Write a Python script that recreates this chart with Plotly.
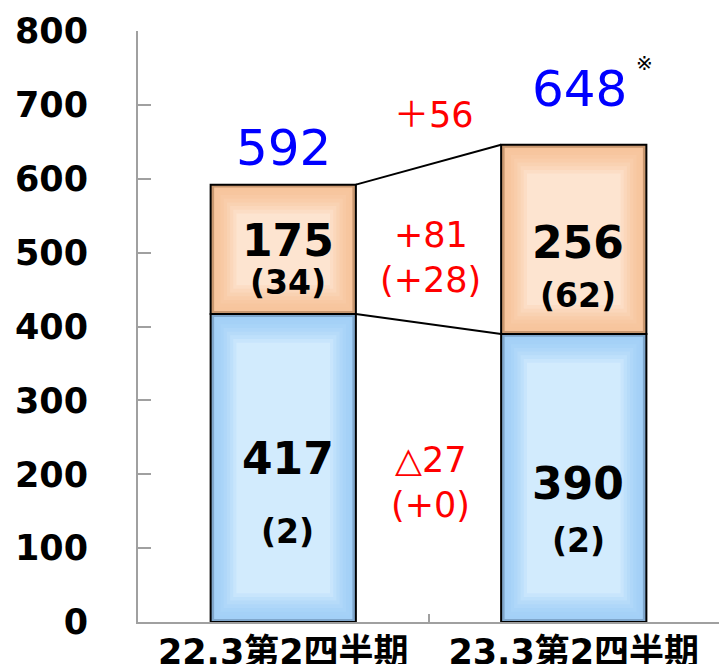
"""Stacked bar: 22.3 vs 23.3 second quarter, with change notes."""
import plotly.graph_objects as go

CATEGORIES = ["22.3第2四半期", "23.3第2四半期"]
LOWER = [417, 390]          # blue segment
UPPER = [175, 256]          # orange segment
LOWER_SUB = ["(2)", "(2)"]
UPPER_SUB = ["(34)", "(62)"]
TOTAL_LABELS = ["592", "648"]
CHANGE_TOTAL = "＋56"
CHANGE_UPPER = ["+81", "(+28)"]
CHANGE_LOWER = ["△27", "(+0)"]
Y_TICKS = [0, 100, 200, 300, 400, 500, 600, 700, 800]

FONT = "DejaVu Sans, Noto Sans CJK JP"
BAR_W = 0.5
xs = [0, 1]
tops = [a + b for a, b in zip(LOWER, UPPER)]

fig = go.Figure()


def mix(c1, c2, t):
    a = [int(c1[i:i + 2], 16) for i in (1, 3, 5)]
    b = [int(c2[i:i + 2], 16) for i in (1, 3, 5)]
    return "rgb(%d,%d,%d)" % tuple(round(p + (q - p) * t) for p, q in zip(a, b))


def add_bevel_bar(base, height, frame, edge, centre):
    # dark frame, then a stack of gradually lighter inner bars (bevel look)
    fig.add_trace(go.Bar(
        x=xs, y=height, base=base, width=BAR_W,
        marker=dict(color=frame, line=dict(color="black", width=2)),
        hoverinfo="skip", showlegend=False,
    ))
    steps = 8
    for k in range(steps):
        t = k / (steps - 1)
        inset_y = 4 + 5 * k
        inset_x = 0.012 + 0.011 * k
        fig.add_trace(go.Bar(
            x=xs, y=[h - 2 * inset_y for h in height],
            base=[b + inset_y for b in base],
            width=BAR_W - 2 * inset_x,
            marker=dict(color=mix(edge, centre, t ** 1.6), line=dict(width=0)),
            hoverinfo="skip", showlegend=False,
        ))


add_bevel_bar([0, 0], LOWER, "#7FA6CB", "#A3D0F7", "#D2EBFD")
add_bevel_bar(LOWER, UPPER, "#C8976F", "#F7C59D", "#FDE4D0")

# connector lines between the bars
for ya in (tops, LOWER):
    fig.add_trace(go.Scatter(
        x=[xs[0] + BAR_W / 2, xs[1] - BAR_W / 2], y=ya, mode="lines",
        line=dict(color="black", width=2), hoverinfo="skip", showlegend=False,
    ))

big = dict(family=FONT, size=44, color="black", weight="bold")
sub = dict(family=FONT, size=33, color="black", weight="bold")
red = dict(family=FONT, size=35, color="#FF0000")
blue = dict(family=FONT, size=50, color="#0000FF")

ann = []
upper_y = [(516, 459), (514, 442)]
lower_y = [(221, 122), (188, 111)]
dx = 0.015
for i in range(2):
    ann.append(dict(x=xs[i] + dx, y=upper_y[i][0], text=str(UPPER[i]), font=big))
    ann.append(dict(x=xs[i] + dx, y=upper_y[i][1], text=UPPER_SUB[i], font=sub))
    ann.append(dict(x=xs[i] + dx, y=lower_y[i][0], text=str(LOWER[i]), font=big))
    ann.append(dict(x=xs[i] + dx, y=lower_y[i][1], text=LOWER_SUB[i], font=sub))
ann.append(dict(x=0, y=641, text=TOTAL_LABELS[0], font=blue))
ann.append(dict(x=1.02, y=721, text=TOTAL_LABELS[1], font=blue))
ann.append(dict(x=1.245, y=757, text="※", font=dict(family=FONT, size=20, color="black")))
ann.append(dict(x=0.52, y=686, text=CHANGE_TOTAL, font=red))
ann.append(dict(x=0.507, y=524, text=CHANGE_UPPER[0], font=red))
ann.append(dict(x=0.507, y=463, text=CHANGE_UPPER[1], font=red))
ann.append(dict(x=0.507, y=219, text=CHANGE_LOWER[0], font=red))
ann.append(dict(x=0.507, y=158, text=CHANGE_LOWER[1], font=red))
for a in ann:
    a.update(xref="x", yref="y", showarrow=False, xanchor="center", yanchor="middle")

fig.update_layout(
    width=719, height=664,
    margin=dict(l=138, r=0, t=31, b=42),
    barmode="overlay",
    plot_bgcolor="white", paper_bgcolor="white",
    annotations=ann,
    xaxis=dict(
        range=[-0.5, 1.5], tickmode="array", tickvals=xs, ticktext=CATEGORIES,
        showline=True, linecolor="#A0A0A0", linewidth=2, automargin=False,
        ticks="", showgrid=False, zeroline=False, ticklabelstandoff=-2,
        tickfont=dict(family=FONT, size=35, color="black", weight="bold"),
    ),
    xaxis2=dict(
        overlaying="x", range=[-0.5, 1.5], tickmode="array", tickvals=[0.5],
        ticks="inside", ticklen=8, tickcolor="#A0A0A0", tickwidth=1.5, automargin=False,
        showticklabels=False, showgrid=False, zeroline=False, side="bottom",
    ),
    yaxis=dict(
        range=[0, 800], tickvals=Y_TICKS, automargin=False,
        showline=True, linecolor="#A0A0A0", linewidth=2,
        ticks="inside", ticklen=13, tickcolor="#A0A0A0", tickwidth=2,
        showgrid=False, zeroline=False, ticklabelstandoff=41,
        tickfont=dict(family=FONT, size=35, color="black", weight="bold"),
    ),
)
# dummy trace so the second x axis (middle tick) is drawn
fig.add_trace(go.Scatter(x=[0.5], y=[0], xaxis="x2", mode="markers",
                         marker=dict(opacity=0), hoverinfo="skip", showlegend=False))

fig.write_html("out.html", config={"displayModeBar": False},
               post_script="document.body.style.margin='0';")
